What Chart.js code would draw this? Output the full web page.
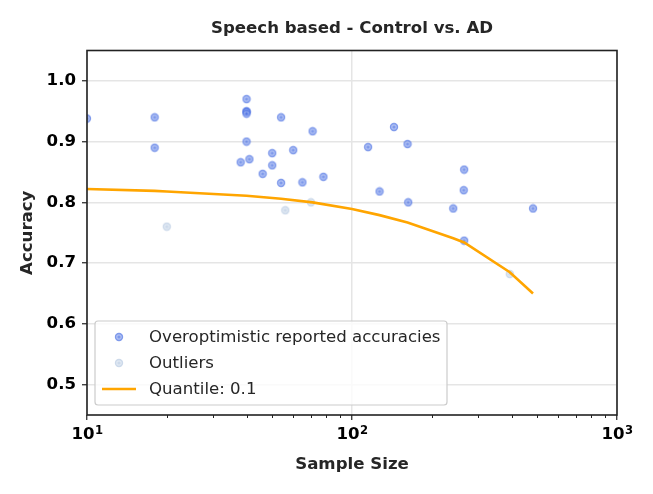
<!DOCTYPE html>
<html>
<head>
<meta charset="utf-8">
<title>Speech based - Control vs. AD</title>
<script src="https://cdn.jsdelivr.net/npm/chart.js@4.4.1/dist/chart.umd.min.js"></script>
<style>
  html, body { margin: 0; padding: 0; background: #fff; }
  #grafico { display: block; }
</style>
</head>
<body>
<canvas id="grafico" width="653" height="494"></canvas>
<script>
// Dados
const tamanhos = [10, 18, 18, 38, 40, 40, 40, 40, 40, 41, 46, 50, 50, 54, 54, 60, 65, 71, 78, 115, 127, 144, 162, 163, 241, 264, 265, 265, 482];
const acuracias = [0.938, 0.94, 0.89, 0.866, 0.97, 0.95, 0.949, 0.946, 0.90, 0.871, 0.847, 0.881, 0.861, 0.94, 0.832, 0.886, 0.833, 0.917, 0.842, 0.891, 0.818, 0.924, 0.896, 0.80, 0.79, 0.82, 0.854, 0.737, 0.79];

const tamanhosOutliers = [20, 56, 70, 394];
const acuraciasOutliers = [0.76, 0.787, 0.80, 0.682];

const tamanhosQuantil = [10, 18, 20, 40, 54, 71, 100, 127, 162, 241, 265, 394, 482];
const acuraciasQuantil = [0.822, 0.819, 0.818, 0.811, 0.806, 0.800, 0.789, 0.779, 0.767, 0.741, 0.734, 0.685, 0.650];

const ticksX = [10, 100, 1000];
const expoentesX = ['1', '2', '3'];
const ticksY = [0.5, 0.6, 0.7, 0.8, 0.9, 1.0];

const titulo = 'Speech based - Control vs. AD';
const legendas = ['Overoptimistic reported accuracies', 'Outliers', 'Quantile: 0.1'];

const azul = 'rgba(65, 105, 225, 0.68)';
const cinzaAzul = 'rgba(176, 196, 222, 0.65)';
const laranja = '#FFA500';
const FONTE = 'DejaVu Sans';
const TAM = 16.6;

function pares(xs, ys) {
  return xs.map((x, i) => ({ x: x, y: ys[i] }));
}

// marcador com anel claro (como no matplotlib com borda branca)
function marcador(cor) {
  const c = document.createElement('canvas');
  c.width = 10; c.height = 10;
  const g = c.getContext('2d');
  g.fillStyle = cor;
  g.beginPath(); g.arc(5, 5, 4.2, 0, Math.PI * 2); g.fill();
  g.strokeStyle = 'rgba(255,255,255,0.4)';
  g.lineWidth = 1.2;
  g.beginPath(); g.arc(5, 5, 2.2, 0, Math.PI * 2); g.stroke();
  return c;
}
const marcAzul = marcador(azul);
const marcCinza = marcador(cinzaAzul);

// Título, rótulos do eixo x, moldura, ticks menores e legenda
const extras = {
  id: 'extras',
  afterDraw(chart) {
    const ctx = chart.ctx;
    const a = chart.chartArea;
    const sx = chart.scales.x;

    ctx.save();
    // título centrado na área do gráfico
    ctx.fillStyle = '#262626';
    ctx.font = 'bold ' + TAM + 'px "' + FONTE + '"';
    ctx.textAlign = 'center';
    ctx.textBaseline = 'middle';
    ctx.fillText(titulo, (a.left + a.right) / 2, 29);

    // rótulos 10^n
    ctx.fillStyle = '#000';
    ctx.textBaseline = 'alphabetic';
    ticksX.forEach((v, i) => {
      const px = sx.getPixelForValue(v);
      ctx.font = 'bold ' + TAM + 'px "' + FONTE + '"';
      const wb = ctx.measureText('10').width;
      ctx.font = 'bold ' + (TAM * 0.7) + 'px "' + FONTE + '"';
      const we = ctx.measureText(expoentesX[i]).width;
      const x0 = px - (wb + we) / 2;
      ctx.textAlign = 'left';
      ctx.font = 'bold ' + TAM + 'px "' + FONTE + '"';
      ctx.fillText('10', x0, 439);
      ctx.font = 'bold ' + (TAM * 0.7) + 'px "' + FONTE + '"';
      ctx.fillText(expoentesX[i], x0 + wb + 0.5, 434);
    });

    // ticks menores do eixo log
    ctx.strokeStyle = '#222';
    ctx.lineWidth = 1;
    for (let d = 10; d < 1000; d *= 10) {
      for (let k = 2; k < 10; k++) {
        const px = Math.round(sx.getPixelForValue(d * k)) + 0.5;
        ctx.beginPath();
        ctx.moveTo(px, a.bottom);
        ctx.lineTo(px, a.bottom + 3);
        ctx.stroke();
      }
    }
    // moldura
    ctx.strokeStyle = '#222';
    ctx.lineWidth = 1.6;
    ctx.strokeRect(a.left, a.top, a.right - a.left, a.bottom - a.top);

    // legenda
    const lx = a.left + 8, ly = a.bottom - 94, lw = 352, lh = 84;
    ctx.fillStyle = 'rgba(255,255,255,0.8)';
    ctx.strokeStyle = '#cccccc';
    ctx.lineWidth = 1.2;
    ctx.beginPath();
    ctx.roundRect(lx, ly, lw, lh, 3);
    ctx.fill();
    ctx.stroke();

    const linhas = [ly + 16, ly + 42, ly + 68];
    const mx = lx + 24;
    ctx.drawImage(marcAzul, mx - 5, linhas[0] - 5);
    ctx.drawImage(marcCinza, mx - 5, linhas[1] - 5);

    ctx.strokeStyle = laranja;
    ctx.lineWidth = 2.6;
    ctx.beginPath();
    ctx.moveTo(lx + 7, linhas[2]);
    ctx.lineTo(lx + 41, linhas[2]);
    ctx.stroke();

    ctx.font = TAM + 'px "' + FONTE + '"';
    ctx.textBaseline = 'middle';
    ctx.textAlign = 'left';
    ctx.fillStyle = '#262626';
    legendas.forEach((t, i) => ctx.fillText(t, lx + 54, linhas[i] + 1));
    ctx.restore();
  }
};

const ctx = document.getElementById('grafico').getContext('2d');
new Chart(ctx, {
  type: 'scatter',
  data: {
    datasets: [{
      label: legendas[2],
      data: pares(tamanhosQuantil, acuraciasQuantil),
      showLine: true,
      borderColor: laranja,
      borderWidth: 2.6,
      pointRadius: 0,
      tension: 0
    }, {
      label: legendas[0],
      data: pares(tamanhos, acuracias),
      pointStyle: marcAzul
    }, {
      label: legendas[1],
      data: pares(tamanhosOutliers, acuraciasOutliers),
      pointStyle: marcCinza
    }]
  },
  options: {
    responsive: false,
    animation: false,
    layout: { padding: { left: 0, right: 36, top: 50.5, bottom: 0 } },
    plugins: {
      legend: { display: false },
      tooltip: { enabled: false },
      title: { display: false }
    },
    scales: {
      x: {
        type: 'logarithmic',
        min: 10,
        max: 1000,
        afterBuildTicks: s => { s.ticks = ticksX.map(v => ({ value: v, major: true })); },
        afterFit: s => { s.height = 79; },
        ticks: {
          autoSkip: false,
          maxRotation: 0,
          padding: 6,
          color: 'rgba(0,0,0,0)',
          font: { family: FONTE, size: TAM, weight: 'bold' },
          callback: () => ''
        },
        grid: { color: '#e5e5e5', lineWidth: 1.5, tickColor: '#222', tickLength: 5, tickWidth: 1.2 },
        border: { display: false },
        title: {
          display: true,
          text: 'Sample Size',
          color: '#262626',
          font: { family: FONTE, size: TAM, weight: 'bold' },
          padding: { top: 0, bottom: 19 }
        }
      },
      y: {
        min: 0.45,
        max: 1.05,
        afterBuildTicks: s => { s.ticks = ticksY.map(v => ({ value: v })); },
        afterFit: s => { s.width = 87; },
        ticks: {
          padding: 6,
          color: '#000',
          font: { family: FONTE, size: TAM, weight: 'bold' },
          callback: v => v.toFixed(1)
        },
        grid: { color: '#e5e5e5', lineWidth: 1.5, tickColor: '#222', tickLength: 5, tickWidth: 1.2 },
        border: { display: false },
        title: {
          display: true,
          text: 'Accuracy',
          color: '#262626',
          font: { family: FONTE, size: TAM, weight: 'bold' },
          padding: { top: 18, bottom: 0 }
        }
      }
    }
  },
  plugins: [extras]
});
</script>
</body>
</html>
